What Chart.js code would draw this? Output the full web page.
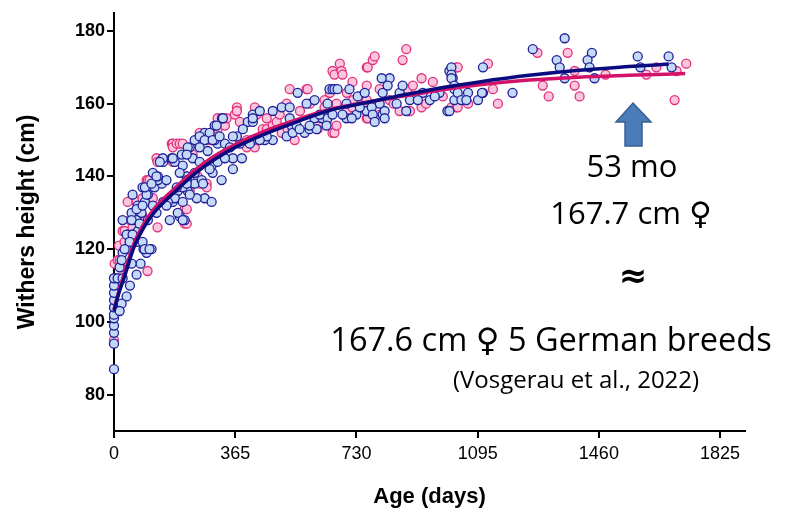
<!DOCTYPE html>
<html lang="en">
<head>
    <meta charset="UTF-8" />
    <title>Withers height growth</title>
    <script src="https://cdn.jsdelivr.net/npm/chart.js"></script>
    <style>
        body {
            margin: 0;
            background-color: #ffffff;
        }

        .chart-box {
            width: 788px;
            height: 525px;
        }
    </style>
</head>
<body>

<div class="chart-box">
    <canvas id="growthChart"></canvas>
</div>

<script>
    // tick values
    const xTicks = [0, 365, 730, 1095, 1460, 1825];
    const yTicks = [80, 100, 120, 140, 160, 180];

    // mares (pink) - [age in days, withers height cm]
    const mareData = [
        [0, 95], [0, 104], [2, 108], [2, 116], [5, 112], [11, 117], [15, 121], [17, 117], [20, 115],
        [26, 125], [32, 125], [32, 122], [41, 133], [48, 128], [56, 130], [56, 126], [68, 133], [77, 129],
        [86, 129], [86, 134], [93, 128], [98, 139], [101, 114], [102, 139], [107, 139], [117, 134],
        [128, 145], [131, 144], [131, 126], [138, 139], [174, 149], [177, 149], [177, 144], [177, 148],
        [189, 149], [198, 149], [207, 149], [213, 131], [213, 127], [219, 127], [219, 131], [219, 140],
        [228, 137], [228, 136], [237, 146], [252, 140], [258, 138], [258, 152], [258, 150], [279, 138],
        [279, 137], [279, 150], [294, 150], [312, 153], [312, 151], [312, 156], [334, 154], [339, 156],
        [364, 157], [370, 159], [370, 158], [379, 155], [400, 148], [400, 150], [424, 159], [424, 148],
        [430, 150], [430, 157], [448, 153], [460, 156], [460, 153], [478, 154], [490, 155], [499, 157],
        [505, 152], [520, 160], [523, 153], [529, 164], [538, 153], [544, 150], [560, 158], [580, 164],
        [583, 164], [590, 160], [613, 153], [620, 156], [634, 161], [634, 159], [640, 155], [650, 163],
        [658, 152], [658, 169], [664, 168], [664, 152], [670, 154], [670, 160], [680, 171], [685, 169],
        [688, 168], [700, 158], [701, 163], [718, 159], [718, 166], [720, 161], [740, 162], [761, 165],
        [761, 161], [761, 170], [761, 156], [764, 170], [764, 156], [779, 172], [785, 173], [800, 164],
        [800, 157], [830, 161], [842, 160], [860, 158], [869, 172], [880, 175], [884, 164], [888, 158],
        [891, 158], [900, 165], [926, 167], [926, 159], [940, 160], [960, 166], [990, 162], [1016, 159],
        [1031, 170], [1031, 159], [1035, 170], [1035, 159], [1066, 160], [1126, 171], [1141, 164],
        [1156, 160], [1275, 174], [1291, 165], [1309, 162], [1366, 174], [1387, 169], [1387, 165],
        [1402, 162], [1480, 168], [1603, 168], [1633, 170], [1688, 161], [1694, 169], [1723, 171]
    ];

    // stallions / geldings (blue)
    const maleData = [
        [0, 87], [0, 94], [0, 97], [0, 99], [0, 101], [0, 102], [0, 104], [0, 106], [0, 108], [0, 110],
        [0, 112], [11, 112], [26, 112], [48, 110], [38, 107], [23, 105], [17, 103], [68, 113], [98, 119],
        [113, 120], [89, 120], [80, 116], [53, 116], [26, 119], [17, 115], [23, 117], [38, 120], [41, 124],
        [53, 124], [71, 122], [86, 122], [38, 124], [72, 125], [62, 128], [68, 128], [83, 130], [93, 133],
        [102, 135], [122, 137], [144, 138], [132, 139], [148, 144], [174, 145], [183, 144], [207, 143],
        [219, 140], [228, 148], [243, 150], [273, 152], [303, 154], [325, 156], [273, 134], [294, 133],
        [102, 128], [128, 130], [168, 128], [198, 129], [213, 128], [148, 133], [177, 133], [192, 136],
        [222, 136], [249, 134], [243, 138], [264, 139], [294, 143], [312, 144], [312, 149], [282, 147],
        [237, 145], [204, 146], [86, 137], [56, 135], [71, 132], [53, 130], [26, 128], [53, 128], [68, 131],
        [98, 135], [93, 137], [113, 138], [132, 140], [147, 145], [198, 141], [219, 139], [207, 137],
        [228, 135], [183, 134], [162, 133], [192, 130], [207, 128], [222, 148], [258, 151], [288, 152],
        [273, 150], [303, 150], [334, 149], [349, 148], [358, 145], [385, 145], [379, 149], [403, 155],
        [418, 157], [439, 158], [478, 158], [505, 159], [529, 159], [535, 154], [478, 150], [454, 150],
        [415, 150], [520, 151], [538, 152], [297, 141], [324, 139], [258, 144], [243, 141], [288, 142],
        [117, 132], [86, 132], [77, 127], [56, 124], [47, 122], [32, 120], [92, 120], [107, 120],
        [309, 154], [328, 156], [268, 138], [334, 145], [358, 142], [370, 151], [460, 151], [439, 150],
        [409, 149], [418, 155], [550, 154], [574, 152], [589, 153], [610, 153], [604, 156], [580, 160],
        [553, 163], [604, 161], [628, 156], [643, 156], [649, 164], [117, 141], [128, 140], [138, 144],
        [158, 139], [158, 132], [177, 145], [189, 137], [207, 133], [219, 146], [219, 138], [258, 148],
        [297, 150], [318, 151], [358, 151], [388, 153], [418, 156], [529, 156], [559, 153], [589, 154],
        [619, 157], [658, 157], [658, 164], [700, 156], [700, 160], [709, 164], [730, 157], [760, 158],
        [761, 158], [809, 157], [809, 163], [830, 167], [860, 163], [880, 158], [930, 163], [980, 163],
        [806, 167], [824, 165], [664, 164], [673, 164], [734, 162], [755, 163], [869, 165], [643, 160],
        [800, 160], [851, 160], [891, 161], [915, 161], [951, 161], [966, 162], [688, 157], [740, 159],
        [776, 159], [779, 157], [815, 158], [815, 156], [785, 155], [716, 156], [640, 154], [1010, 169],
        [1020, 167], [1025, 161], [1004, 158], [1016, 170], [1016, 168], [1016, 167], [1025, 165],
        [1025, 164], [1035, 163], [1066, 163], [1046, 161], [1061, 161], [1096, 161], [1111, 163],
        [1010, 158], [1111, 170], [1200, 163], [1108, 163], [1357, 178], [1261, 175], [1333, 172],
        [1342, 170], [1357, 167], [1439, 174], [1426, 172], [1432, 170], [1447, 167], [1577, 173],
        [1670, 173], [1585, 170], [1679, 170]
    ];

    // fitted growth curves
    const maleFit = [
        [0, 103], [15, 108], [30, 112], [60, 120.5], [90, 126], [120, 130], [180, 135.5], [240, 140.5],
        [300, 144.5], [365, 148], [450, 151.5], [550, 155], [650, 158.2], [730, 159.8], [850, 162],
        [1000, 164.6], [1100, 166], [1250, 167.8], [1400, 169.2], [1550, 170.2], [1670, 170.9]
    ];
    const mareFit = [
        [0, 103.5], [15, 108.5], [30, 113], [60, 121.5], [90, 127], [120, 131], [180, 136.5],
        [240, 141.5], [300, 145.5], [365, 148.8], [450, 152.3], [550, 155.6], [650, 158.4],
        [730, 159.9], [850, 161.8], [1000, 164], [1100, 165.2], [1250, 166.5], [1400, 167.3],
        [1550, 167.8], [1720, 168.3]
    ];

    const toXY = arr => arr.map(p => ({ x: p[0], y: p[1] }));

    // text + arrow on the right side
    const notesPlugin = {
        id: 'notes',
        afterDraw(chart) {
            const ctx = chart.ctx;
            ctx.save();

            // arrow pointing up at the curve
            const ax = 633, tip = 103;
            ctx.beginPath();
            ctx.moveTo(ax, tip);
            ctx.lineTo(ax + 18, tip + 19);
            ctx.lineTo(ax + 9, tip + 19);
            ctx.lineTo(ax + 9, tip + 43);
            ctx.lineTo(ax - 8, tip + 43);
            ctx.lineTo(ax - 8, tip + 19);
            ctx.lineTo(ax - 17, tip + 19);
            ctx.closePath();
            ctx.fillStyle = '#4a7cba';
            ctx.fill();
            ctx.strokeStyle = '#39608f';
            ctx.lineWidth = 1.5;
            ctx.stroke();

            ctx.fillStyle = '#000';
            ctx.textAlign = 'center';
            ctx.textBaseline = 'middle';
            ctx.font = '31px "Open Sans", "DejaVu Sans", sans-serif';
            ctx.fillText('53 mo', 632, 168);
            ctx.fillText('167.7 cm \u2640', 631, 215);
            ctx.font = 'bold 34px "DejaVu Sans", sans-serif';
            ctx.fillText('\u2248', 633, 278);
            ctx.font = '32.5px "Open Sans", "DejaVu Sans", sans-serif';
            ctx.fillText('167.6 cm \u2640 5 German breeds', 551, 342);
            ctx.font = '24px "Open Sans", "DejaVu Sans", sans-serif';
            ctx.fillText('(Vosgerau et al., 2022)', 576, 381);
            ctx.restore();
        }
    };

    const fontFamily = 'Arial, "Liberation Sans", sans-serif';

    new Chart(document.getElementById('growthChart'), {
        type: 'scatter',
        data: {
            datasets: [
                {
                    label: 'Fit males',
                    data: toXY(maleFit),
                    showLine: true,
                    borderColor: '#0b0b80',
                    borderWidth: 3.5,
                    pointRadius: 0,
                    cubicInterpolationMode: 'monotone',
                    clip: false
                },
                {
                    label: 'Fit mares',
                    data: toXY(mareFit),
                    showLine: true,
                    borderColor: '#d4126a',
                    borderWidth: 3.5,
                    pointRadius: 0,
                    cubicInterpolationMode: 'monotone',
                    clip: false
                },
                {
                    label: 'Males',
                    data: toXY(maleData),
                    pointRadius: 4.5,
                    borderWidth: 1.3,
                    borderColor: '#1f1f98',
                    backgroundColor: '#c4d9f6',
                    clip: false
                },
                {
                    label: 'Mares',
                    data: toXY(mareData),
                    pointRadius: 4.5,
                    borderWidth: 1.3,
                    borderColor: '#e0307c',
                    backgroundColor: '#fac6de',
                    clip: false
                }
            ]
        },
        options: {
            responsive: true,
            maintainAspectRatio: false,
            animation: false,
            layout: {
                padding: { top: 10, right: 43, left: 0, bottom: 0 }
            },
            plugins: {
                legend: { display: false },
                tooltip: { enabled: false }
            },
            scales: {
                x: {
                    type: 'linear',
                    min: 0,
                    max: 1900,
                    afterBuildTicks: s => { s.ticks = xTicks.map(v => ({ value: v })); },
                    afterFit: s => { s.height = 94; },
                    border: { display: true, color: '#000', width: 2 },
                    grid: {
                        display: true,
                        drawOnChartArea: false,
                        drawTicks: true,
                        tickLength: 7,
                        color: '#000',
                        lineWidth: 2
                    },
                    ticks: {
                        color: '#000',
                        font: { family: fontFamily, size: 18 },
                        padding: 5,
                        maxRotation: 0,
                        callback: v => String(v)
                    },
                    title: {
                        display: true,
                        text: 'Age (days)',
                        color: '#000',
                        font: { family: fontFamily, size: 22, weight: 'bold' },
                        padding: { top: 0, bottom: 15 }
                    }
                },
                y: {
                    type: 'linear',
                    min: 70,
                    max: 185,
                    afterBuildTicks: s => { s.ticks = yTicks.map(v => ({ value: v })); },
                    afterFit: s => { s.width = 114; },
                    border: { display: true, color: '#000', width: 2 },
                    grid: {
                        display: true,
                        drawOnChartArea: false,
                        drawTicks: true,
                        tickLength: 7,
                        color: '#000',
                        lineWidth: 2
                    },
                    ticks: {
                        color: '#000',
                        font: { family: fontFamily, size: 18, weight: 'bold' },
                        padding: 2,
                        callback: v => String(v)
                    },
                    title: {
                        display: true,
                        text: 'Withers height (cm)',
                        color: '#000',
                        font: { family: fontFamily, size: 23, weight: 'bold' },
                        padding: { top: 14, bottom: 0 }
                    }
                }
            }
        },
        plugins: [notesPlugin]
    });
</script>

</body>
</html>
